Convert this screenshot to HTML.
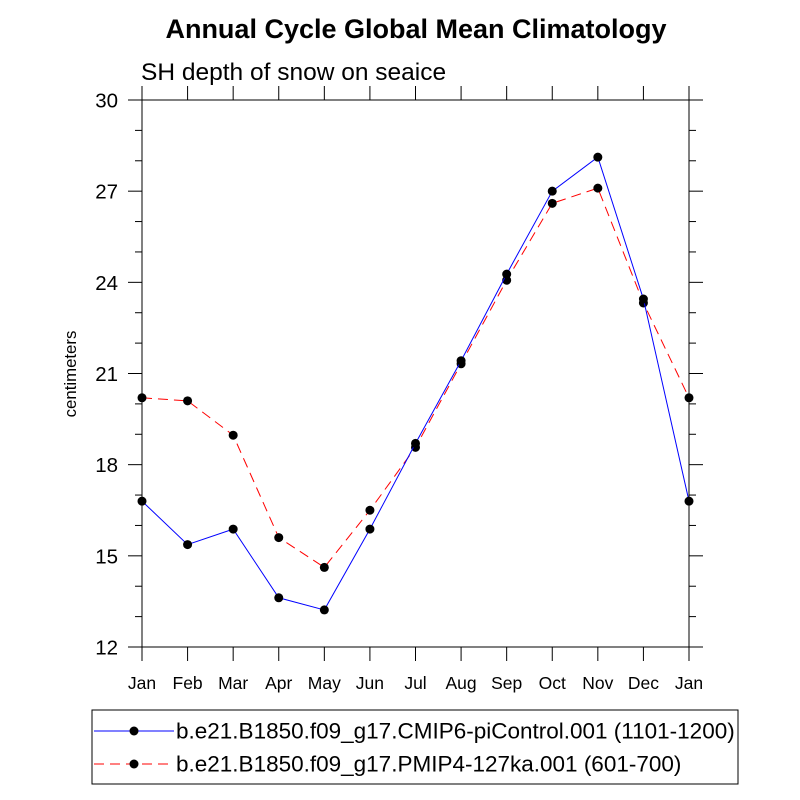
<!DOCTYPE html>
<html><head><meta charset="utf-8"><style>body{margin:0;background:#fff}svg{display:block}text{font-family:"Liberation Sans",sans-serif}</style></head>
<body>
<svg id="chart" width="800" height="800">
<text x="416" y="38" text-anchor="middle" font-size="27" font-weight="bold">Annual Cycle Global Mean Climatology</text>
<text x="141" y="80" font-size="24.5">SH depth of snow on seaice</text>
<text transform="translate(76,374) rotate(-90)" text-anchor="middle" font-size="16.8">centimeters</text>
<g id="axes"></g>
<g id="series"></g>
<g>
<rect x="92" y="710" width="646" height="74" fill="none" stroke="#000" stroke-width="1"/>
<line x1="94" y1="731" x2="174" y2="731" stroke="#0000ff" stroke-width="1"/>
<circle cx="134" cy="731" r="4.5" fill="#000"/>
<text x="176" y="738.5" font-size="22.5">b.e21.B1850.f09_g17.CMIP6-piControl.001 (1101-1200)</text>
<line x1="94" y1="764" x2="174" y2="764" stroke="#ff0000" stroke-width="1" stroke-dasharray="10,6"/>
<circle cx="134" cy="764" r="4.5" fill="#000"/>
<text x="176" y="771.5" font-size="22.5">b.e21.B1850.f09_g17.PMIP4-127ka.001 (601-700)</text>
</g>
</svg>
<script>
const months=["Jan","Feb","Mar","Apr","May","Jun","Jul","Aug","Sep","Oct","Nov","Dec","Jan"];
const piControl=[16.8,15.37,15.88,13.62,13.22,15.88,18.7,21.42,24.27,27.0,28.12,23.45,16.8];
const ka127=[20.2,20.1,18.97,15.6,14.62,16.5,18.57,21.32,24.07,26.6,27.1,23.32,20.2];
const yTicks=[12,15,18,21,24,27,30];
const NS="http://www.w3.org/2000/svg";
const L=142,R=689,T=100,B=647,ymin=12,ymax=30;
const xs=i=>L+i*(R-L)/12, ys=v=>B-(v-ymin)/(ymax-ymin)*(B-T);
function mk(t,a,p){const e=document.createElementNS(NS,t);for(const k in a)e.setAttribute(k,a[k]);p.appendChild(e);return e;}
const ax=document.getElementById('axes');
const frame=mk('rect',{x:L,y:T,width:R-L,height:B-T,fill:'none',stroke:'#000','stroke-width':1},ax);


for(let v=ymin;v<=ymax;v++){const y=ys(v);const maj=(v%3===0);const len=maj?14:7;
 mk('line',{x1:L-len,y1:y,x2:L,y2:y,stroke:'#000'},ax);mk('line',{x1:R,y1:y,x2:R+len,y2:y,stroke:'#000'},ax);}
yTicks.forEach(v=>{const t=mk('text',{x:L-24,y:ys(v)+7.5,'text-anchor':'end','font-size':20.5},ax);t.textContent=v;
 
 });
months.forEach((m,i)=>{const x=xs(i);mk('line',{x1:x,y1:B,x2:x,y2:B+14,stroke:'#000'},ax);mk('line',{x1:x,y1:T-14,x2:x,y2:T,stroke:'#000'},ax);
 const t=mk('text',{x:x,y:B+42,'text-anchor':'middle','font-size':17.5},ax);t.textContent=m;
 
 });
const sg=document.getElementById('series');
function draw(vals,color,dash,name){
 const pl=mk('polyline',{points:vals.map((v,i)=>xs(i)+','+ys(v)).join(' '),fill:'none',stroke:color,'stroke-width':1,'stroke-dasharray':dash},sg);
 
 
 vals.forEach((v,i)=>{const c=mk('circle',{cx:xs(i),cy:ys(v),r:4.5,fill:'#000'},sg);
  
  });
}
draw(ka127,'#ff0000','10,6','ka127');
draw(piControl,'#0000ff','none','picontrol');
</script>
</body></html>
